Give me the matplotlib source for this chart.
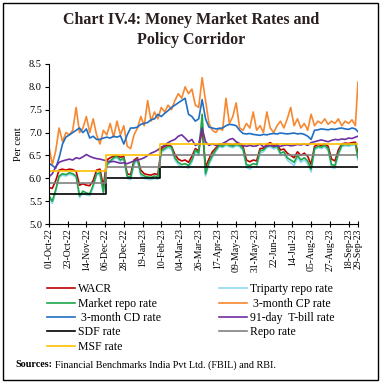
import numpy as np
import pandas as pd
import matplotlib
matplotlib.use('Agg')
import matplotlib.pyplot as plt
import matplotlib.dates as mdates
from matplotlib.patches import Rectangle

# sample dates (every 4 days, plus the last day)
dates = list(pd.date_range('2022-10-01', '2023-09-26', freq='4D')) + [pd.Timestamp('2023-09-29')]

wacr = [5.80, 5.78, 5.95, 6.18, 6.20, 6.18, 6.20, 6.19, 6.15, 5.85,
        5.88, 5.85, 5.84, 5.95, 6.18, 6.20, 5.82, 6.40, 6.45, 6.48,
        6.50, 6.46, 6.48, 6.10, 6.08, 6.40, 6.45, 6.18, 6.10, 6.08,
        6.07, 6.10, 6.08, 6.65, 6.70, 6.72, 6.70, 6.52, 6.42, 6.38,
        6.40, 6.35, 6.48, 6.65, 6.60, 7.10, 6.25, 6.42, 6.58, 6.66,
        6.75, 6.73, 6.76, 6.75, 6.73, 6.76, 6.75, 6.70, 6.40, 6.36,
        6.40, 6.38, 6.65, 6.66, 6.74, 6.78, 6.72, 6.74, 6.62, 6.64,
        6.55, 6.50, 6.45, 6.58, 6.50, 6.55, 6.48, 6.30, 6.70, 6.74,
        6.72, 6.75, 6.70, 6.42, 6.38, 6.62, 6.75, 6.77, 6.76, 6.78,
        6.79, 6.55]
market_repo = [5.62, 5.50, 5.75, 6.05, 6.10, 6.08, 6.12, 6.10, 6.05, 5.62,
               5.72, 5.68, 5.66, 5.85, 6.10, 6.12, 5.70, 6.30, 6.38, 6.45,
               6.48, 6.40, 6.45, 6.05, 6.02, 6.35, 6.42, 6.10, 6.05, 6.03,
               6.02, 6.05, 6.03, 6.60, 6.65, 6.70, 6.68, 6.45, 6.35, 6.30,
               6.32, 6.28, 6.40, 6.62, 6.55, 7.40, 6.10, 6.35, 6.50, 6.62,
               6.72, 6.70, 6.75, 6.72, 6.70, 6.74, 6.72, 6.65, 6.30, 6.28,
               6.32, 6.30, 6.60, 6.62, 6.70, 6.72, 6.68, 6.70, 6.55, 6.58,
               6.45, 6.40, 6.35, 6.50, 6.40, 6.45, 6.38, 6.20, 6.65, 6.70,
               6.68, 6.72, 6.65, 6.30, 6.28, 6.55, 6.72, 6.74, 6.73, 6.75,
               6.76, 6.45]
triparty = [5.58, 5.45, 5.70, 6.02, 6.07, 6.05, 6.09, 6.07, 6.02, 5.58,
            5.68, 5.64, 5.62, 5.80, 6.07, 6.09, 5.65, 6.27, 6.35, 6.42,
            6.45, 6.37, 6.42, 6.00, 5.97, 6.30, 6.38, 6.05, 6.00, 5.98,
            5.97, 6.00, 5.98, 6.56, 6.62, 6.66, 6.64, 6.40, 6.30, 6.24,
            6.26, 6.22, 6.35, 6.58, 6.50, 7.20, 6.05, 6.30, 6.45, 6.58,
            6.69, 6.67, 6.72, 6.69, 6.67, 6.71, 6.69, 6.60, 6.24, 6.20,
            6.26, 6.24, 6.55, 6.58, 6.67, 6.69, 6.64, 6.67, 6.50, 6.53,
            6.40, 6.34, 6.28, 6.45, 6.35, 6.40, 6.32, 6.14, 6.62, 6.67,
            6.65, 6.69, 6.60, 6.24, 6.22, 6.50, 6.69, 6.71, 6.70, 6.72,
            6.73, 6.40]
cp_rate = [6.70, 6.30, 6.60, 7.10, 6.80, 7.00, 6.95, 7.05, 7.55, 7.00,
           7.10, 7.35, 7.00, 7.30, 6.95, 6.75, 7.05, 6.95, 7.20, 6.90,
           7.25, 6.95, 7.15, 6.70, 6.65, 6.95, 7.10, 7.35, 7.15, 7.70,
           7.25, 7.45, 7.30, 7.55, 7.45, 7.60, 7.50, 7.70, 7.85, 7.75,
           8.00, 7.85, 7.95, 7.60, 7.55, 8.20, 7.70, 7.20, 7.05, 7.00,
           7.10, 7.05, 7.75, 7.20, 7.35, 7.65, 7.10, 7.05, 7.20, 7.10,
           7.45, 7.05, 7.15, 7.00, 7.45, 7.10, 7.00, 7.15, 7.25, 7.10,
           7.30, 7.55, 7.15, 7.30, 7.10, 7.20, 7.05, 7.40, 7.15, 7.25,
           7.20, 7.30, 7.18, 7.25, 7.20, 7.30, 7.15, 7.25, 7.20, 7.28,
           7.15, 8.10]
cd_rate = [6.33, 6.28, 6.22, 6.45, 6.75, 6.90, 6.95, 7.00, 7.05, 7.10,
           7.00, 7.08, 6.88, 6.92, 6.85, 6.85, 6.88, 6.90, 6.88, 6.92,
           6.90, 6.93, 6.75, 6.95, 7.10, 7.10, 7.12, 7.18, 7.20, 7.22,
           7.28, 7.30, 7.40, 7.35, 7.42, 7.48, 7.55, 7.60, 7.65, 7.70,
           7.75, 7.40, 7.35, 7.25, 7.30, 7.72, 7.30, 7.12, 7.10, 7.08,
           7.09, 7.10, 7.15, 7.18, 7.17, 7.15, 7.05, 6.98, 6.97, 6.98,
           6.96, 6.95, 6.94, 6.96, 6.95, 6.97, 6.98, 6.97, 6.99, 6.98,
           6.97, 6.98, 6.99, 6.97, 6.98, 6.96, 6.92, 6.85, 7.05, 7.06,
           7.08, 7.07, 7.06, 7.08, 7.07, 7.09, 7.10, 7.08, 7.07, 7.10,
           7.08, 7.02]
tbill = [6.03, 6.10, 6.25, 6.35, 6.38, 6.40, 6.42, 6.40, 6.45, 6.43,
         6.47, 6.52, 6.48, 6.45, 6.43, 6.42, 6.40, 6.38, 6.36, 6.37,
         6.35, 6.33, 6.34, 6.32, 6.35, 6.38, 6.40, 6.42, 6.45, 6.50,
         6.55, 6.58, 6.62, 6.68, 6.72, 6.78, 6.82, 6.85, 6.92, 6.95,
         6.88, 6.80, 6.85, 6.72, 6.75, 7.10, 6.80, 6.72, 6.75, 6.72,
         6.74, 6.76, 6.80, 6.85, 6.87, 6.80, 6.76, 6.72, 6.70, 6.72,
         6.70, 6.71, 6.75, 6.69, 6.70, 6.72, 6.70, 6.71, 6.70, 6.72,
         6.73, 6.71, 6.72, 6.74, 6.73, 6.75, 6.72, 6.78, 6.80, 6.82,
         6.84, 6.82, 6.80, 6.83, 6.85, 6.84, 6.86, 6.85, 6.88, 6.87,
         6.90, 6.92]

# policy corridor (change dates)
policy_dates = pd.to_datetime(['2022-10-01', '2022-12-07', '2023-02-08', '2023-09-29'])
sdf_rate = [5.65, 6.00, 6.25, 6.25]
repo_rate = [5.90, 6.25, 6.50, 6.50]
msf_rate = [6.15, 6.50, 6.75, 6.75]

serif = 'Liberation Serif'

fig = plt.figure(figsize=(3.82, 3.83), dpi=100)
ax = fig.add_axes([0.128, 0.415, 0.809, 0.418])

lw = 1.2
h_tri, = ax.plot(dates, triparty, color='#8fd8f2', lw=lw, label='Triparty repo rate')
h_wacr, = ax.plot(dates, wacr, color='#c00000', lw=lw, label='WACR')
h_mkt, = ax.plot(dates, market_repo, color='#1fa64a', lw=lw, label='Market repo rate')
h_cp, = ax.plot(dates, cp_rate, color='#f7882f', lw=lw, label=' 3-month CP rate')
h_cd, = ax.plot(dates, cd_rate, color='#1f6fc5', lw=lw, label=' 3-month CD rate')
h_tb, = ax.plot(dates, tbill, color='#7030a0', lw=lw, label='91-day  T-bill rate')
h_sdf, = ax.plot(policy_dates, sdf_rate, color='black', lw=lw, drawstyle='steps-post', label='SDF rate')
h_repo, = ax.plot(policy_dates, repo_rate, color='#808080', lw=lw, drawstyle='steps-post', label='Repo rate')
h_msf, = ax.plot(policy_dates, msf_rate, color='#ffc000', lw=lw, drawstyle='steps-post', label='MSF rate')

ax.set_ylim(5.0, 8.5)
ax.set_yticks(np.arange(5.0, 8.51, 0.5))
ax.yaxis.set_major_formatter(plt.FormatStrFormatter('%.1f'))
ax.set_xlim(pd.Timestamp('2022-10-01'), pd.Timestamp('2023-09-29'))
xticks = list(pd.date_range('2022-10-01', periods=17, freq='22D')) + [pd.Timestamp('2023-09-29')]
ax.set_xticks(xticks)
ax.xaxis.set_major_formatter(mdates.DateFormatter('%d-%b-%y'))
for s in ['top', 'right']:
    ax.spines[s].set_visible(False)
ax.tick_params(axis='x', direction='inout', length=4, labelrotation=90, labelsize=7, pad=1)
ax.tick_params(axis='y', direction='out', length=3, labelsize=7.5, pad=2)
for lab in ax.get_xticklabels() + ax.get_yticklabels():
    lab.set_family(serif)
ax.set_ylabel('Per cent', family=serif, fontsize=7.5, labelpad=4)

fig.text(0.5, 0.948, 'Chart IV.4: Money Market Rates and', ha='center', va='center',
         family=serif, fontweight='bold', fontsize=11.5, color='#2b2020')
fig.text(0.5, 0.896, 'Policy Corridor', ha='center', va='center',
         family=serif, fontweight='bold', fontsize=11.5, color='#2b2020')

handles = [h_wacr, h_mkt, h_cd, h_sdf, h_msf, h_tri, h_cp, h_tb, h_repo]
fig.legend(handles=handles, labels=[h.get_label() for h in handles], ncol=2,
           loc='upper left', bbox_to_anchor=(0.098, 0.285), frameon=False,
           prop={'family': serif, 'size': 8.5}, handlelength=2.4, handletextpad=0.25,
           columnspacing=4.9, labelspacing=0.2, borderpad=0.3)

# source note: bold "Sources:" followed by plain text
src = fig.text(0.04, 0.047, 'Sources:', family=serif, fontweight='bold', fontsize=7.3, va='center')
fig.canvas.draw()
bb = src.get_window_extent(fig.canvas.get_renderer()).transformed(fig.transFigure.inverted())
fig.text(bb.x1 + 0.006, 0.047, 'Financial Benchmarks India Pvt Ltd. (FBIL) and RBI.',
         family=serif, fontsize=7.3, va='center')

fig.patches.append(Rectangle((3 / 382, 3 / 383), 375 / 382, 377 / 383, transform=fig.transFigure,
                             fill=False, edgecolor='black', lw=1))

fig.savefig('out.png', dpi=100)
